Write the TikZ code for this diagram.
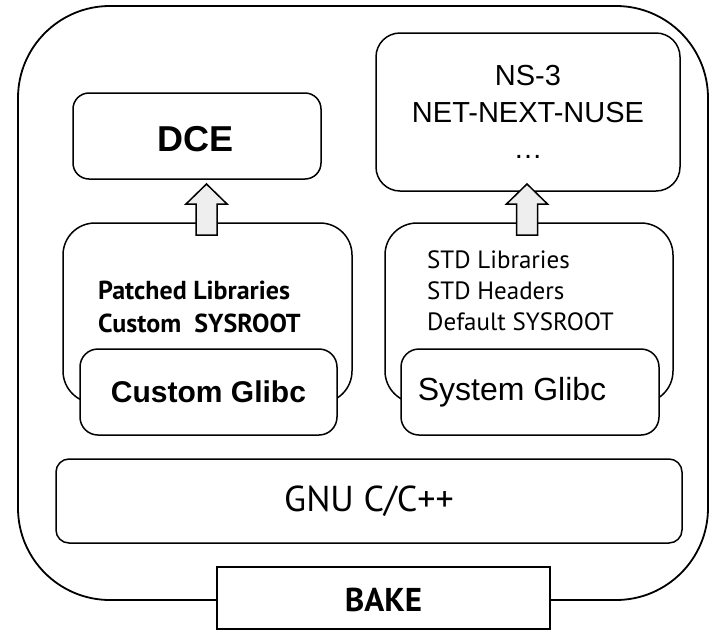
\documentclass[tikz,border=0pt]{standalone}
\usepackage{fontspec}
\setmainfont{Liberation Sans}
\newfontfamily\srcfont{PT Sans}
\begin{document}
\begin{tikzpicture}[x=1pt,y=-1pt,
  box/.style={draw,line width=1.5pt,rectangle,inner sep=0pt,fill=white},
  arr/.style={draw,line width=1.5pt,fill=gray!13,line join=miter},
  arial/.style={font=\fontsize{#1}{#1}\selectfont,inner sep=0pt},
  arialb/.style={font=\bfseries\fontsize{#1}{#1}\selectfont,inner sep=0pt},
  src/.style={font=\srcfont\fontsize{#1}{#1}\selectfont,inner sep=0pt},
  srcb/.style={font=\srcfont\bfseries\fontsize{#1}{#1}\selectfont,inner sep=0pt}]
\useasboundingbox (0,0) rectangle (713,630);
% outer
\node[box,line width=1.8pt,rounded corners=92pt,minimum width=690pt,minimum height=594pt] (outer) at (363,303) {};
% top boxes
\node[box,rounded corners=16pt,minimum width=248pt,minimum height=86pt] (dce) at (197,136) {};
\node[arialb=36,anchor=base] (dcet) at (195.5,151.5) {DCE};
\node[box,rounded corners=24pt,minimum width=304pt,minimum height=158pt] (ns3) at (528,112) {};
\node[arial=29,anchor=base] (ns3a) at (528,85) {NS-3};
\node[arial=29,anchor=base] (ns3b) at (528,122) {NET-NEXT-NUSE};
\node[arial=29,anchor=base] (ns3c) at (528,158) {\dots};
% middle boxes
\node[box,rounded corners=32pt,minimum width=289pt,minimum height=180pt] (lbig) at (207.5,313) {};
\node[box,rounded corners=32pt,minimum width=288pt,minimum height=180pt] (rbig) at (529,313) {};
\node[box,rounded corners=18pt,minimum width=257pt,minimum height=86pt] (cglibc) at (208.5,392) {};
\node[arialb=30] (cglibct) at (cglibc) {Custom Glibc};
\node[box,rounded corners=18pt,minimum width=258pt,minimum height=86pt] (sglibc) at (530,392) {};
\node[arial=32] (sglibct) at (512,392) {System Glibc};
% texts
\node[srcb=26,font=\srcfont\bfseries\fontsize{26}{33}\selectfont,align=left,anchor=west] (patched) at (98,306.5) {Patched Libraries\\Custom\ \ SYSROOT};
\node[src=25,font=\srcfont\fontsize{25}{31}\selectfont,align=left,anchor=west] (std) at (427,290.5) {STD Libraries\\STD Headers\\Default SYSROOT};
% GNU
\node[box,rounded corners=13pt,minimum width=626pt,minimum height=84pt] (gnu) at (369,501) {};
\node[src=36] (gnut) at (gnu) {GNU C/C++};
% BAKE
\node[box,line width=1.8pt,minimum width=333pt,minimum height=62pt] (bake) at (383.5,598) {};
\node[srcb=33] (baket) at (383.5,600) {BAKE};
% arrows
\coordinate (tipL) at (206.5,184);
\coordinate (tipR) at (527,184);
\draw[arr] (tipL) -- ++(20.5,20) -- ++(-10,0) -- ++(0,31) -- ++(-21,0) -- ++(0,-31) -- ++(-10,0) -- cycle;
\draw[arr] (tipR) -- ++(20.5,20) -- ++(-10,0) -- ++(0,31) -- ++(-21,0) -- ++(0,-31) -- ++(-10,0) -- cycle;
\end{tikzpicture}
\end{document}
